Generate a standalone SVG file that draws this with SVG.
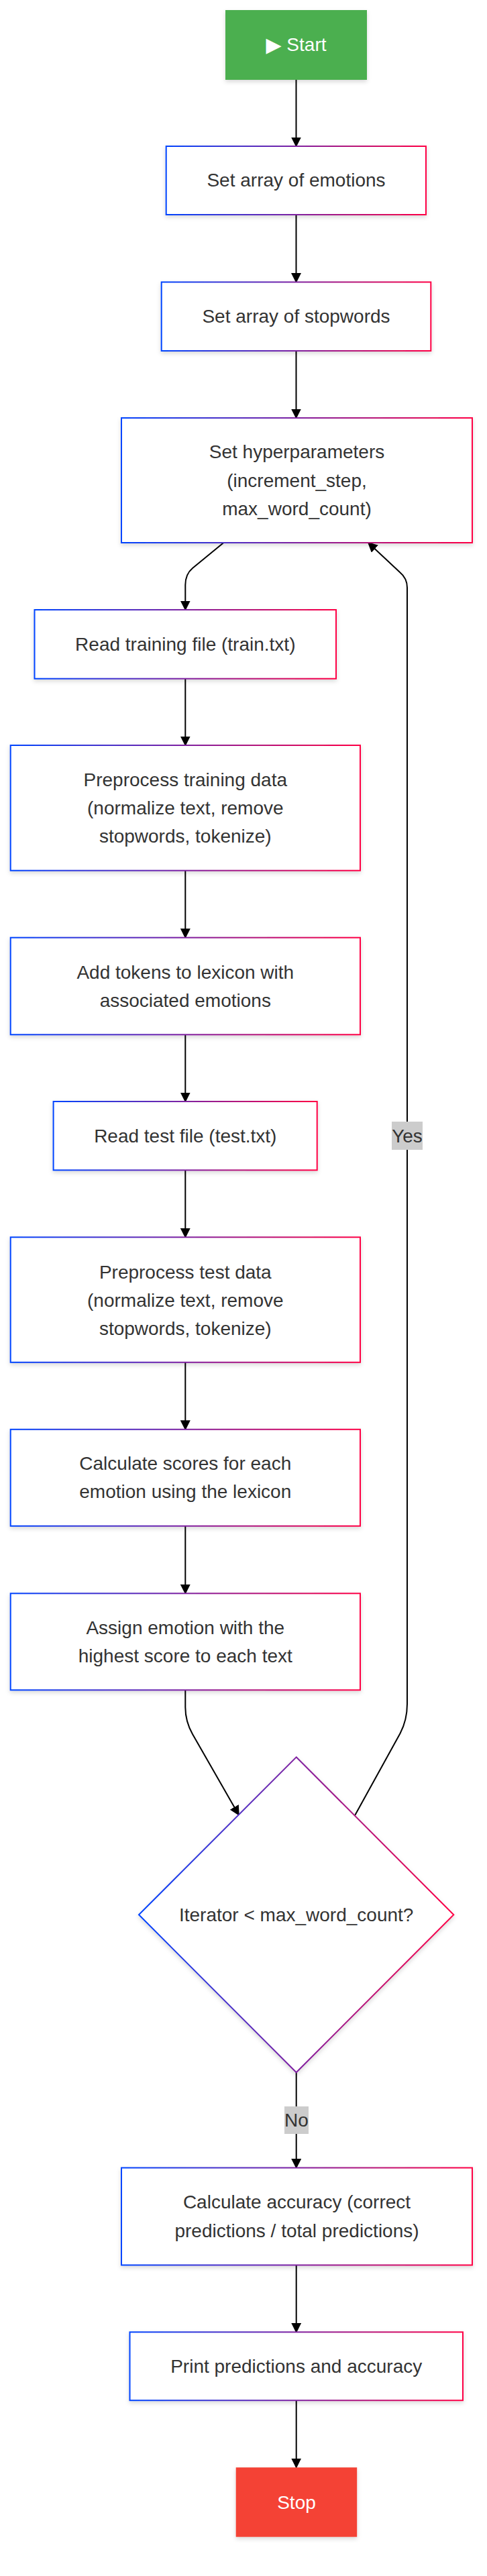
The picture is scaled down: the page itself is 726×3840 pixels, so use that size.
<svg xmlns="http://www.w3.org/2000/svg" width="726" height="3840" viewBox="0 0 726 3840">
<defs>
<linearGradient id="grad" x1="0" y1="0" x2="1" y2="0">
<stop offset="0" stop-color="#0044ff"/>
<stop offset="1" stop-color="#ff0044"/>
</linearGradient>
<filter id="shadow" x="-10%" y="-10%" width="120%" height="130%">
<feDropShadow dx="0" dy="3" stdDeviation="3" flood-color="#000" flood-opacity="0.15"/>
</filter>
<marker id="arrow" viewBox="0 0 10 10" refX="9" refY="5" markerUnits="userSpaceOnUse" markerWidth="15" markerHeight="15" orient="auto">
<path d="M0,0 L10,5 L0,10 z" fill="#000"/>
</marker>
</defs>
<style>
.box{fill:#fff;stroke:url(#grad);stroke-width:2;filter:url(#shadow)}
.t{font-family:"Liberation Sans",Arial,sans-serif;font-size:28px;fill:#333;text-anchor:middle;dominant-baseline:central}
.w{fill:#fff}
.edge{fill:none;stroke:#000;stroke-width:2}
.lbl{fill:#cccccc}
</style>
<rect width="726" height="3840" fill="#fff"/>
<g id="connectors">
<path class="edge" d="M441.5,119 L441.5,218" marker-end="url(#arrow)"/>
<path class="edge" d="M441.5,320 L441.5,420.5" marker-end="url(#arrow)"/>
<path class="edge" d="M441.5,523 L441.5,623" marker-end="url(#arrow)"/>
<path class="edge" d="M333.3,809 L287,847 Q276.3,856 276.3,872 L276.3,909" marker-end="url(#arrow)"/>
<path class="edge" d="M276.3,1011.7 L276.3,1111" marker-end="url(#arrow)"/>
<path class="edge" d="M276.3,1297.7 L276.3,1397.7" marker-end="url(#arrow)"/>
<path class="edge" d="M276.3,1542.3 L276.3,1642" marker-end="url(#arrow)"/>
<path class="edge" d="M276.3,1744.3 L276.3,1844.3" marker-end="url(#arrow)"/>
<path class="edge" d="M276.3,2030.8 L276.3,2130.8" marker-end="url(#arrow)"/>
<path class="edge" d="M276.3,2274.8 L276.3,2375.3" marker-end="url(#arrow)"/>
<path class="edge" d="M276.3,2519.3 L276.3,2545 Q276.3,2566 287,2585 L356,2705.5" marker-end="url(#arrow)"/>
<path class="edge" d="M441.7,3089.3 L441.7,3231.5" marker-end="url(#arrow)"/>
<path class="edge" d="M441.7,3376.5 L441.7,3476.4" marker-end="url(#arrow)"/>
<path class="edge" d="M441.7,3578.2 L441.7,3678.2" marker-end="url(#arrow)"/>
<path class="edge" d="M529.3,2705.7 L596.5,2584 Q607,2564 607,2540 L607,876 Q607,862 596,853 L549,809" marker-end="url(#arrow)"/>
<g id="label-yes">
<rect class="lbl" x="584" y="1672" width="46" height="42"/>
<text class="t" x="607" y="1693">Yes</text>
</g>
<g id="label-no">
<rect class="lbl" x="424" y="3140" width="36" height="41"/>
<text class="t" x="442" y="3160.5">No</text>
</g>
</g>
<g id="start">
<rect x="336" y="15" width="211" height="104" fill="#4CAF50" filter="url(#shadow)"/>
<text class="t w" x="441.5" y="66"><tspan font-family="DejaVu Sans, sans-serif" font-size="30">▶</tspan> Start</text>
</g>
<g id="set-emotions">
<rect class="box" x="247.7" y="218" width="387.3" height="102"/>
<text class="t" x="441.5" y="268">Set array of emotions</text>
</g>
<g id="set-stopwords">
<rect class="box" x="240.7" y="420.5" width="401.6" height="102.5"/>
<text class="t" x="441.5" y="471">Set array of stopwords</text>
</g>
<g id="set-hyperparameters">
<rect class="box" x="181" y="623" width="523" height="186"/>
<text class="t" x="442.5" y="673.5">Set hyperparameters</text>
<text class="t" x="442.5" y="716">(increment_step,</text>
<text class="t" x="442.5" y="758.5">max_word_count)</text>
</g>
<g id="read-training">
<rect class="box" x="51.5" y="909" width="449.5" height="102.7"/>
<text class="t" x="276.3" y="960">Read training file (train.txt)</text>
</g>
<g id="preprocess-training">
<rect class="box" x="15.7" y="1111" width="521.3" height="186.7"/>
<text class="t" x="276.3" y="1162.5">Preprocess training data</text>
<text class="t" x="276.3" y="1204.5">(normalize text, remove</text>
<text class="t" x="276.3" y="1246.5">stopwords, tokenize)</text>
</g>
<g id="add-tokens">
<rect class="box" x="15.7" y="1397.7" width="521.3" height="144.6"/>
<text class="t" x="276.3" y="1449">Add tokens to lexicon with</text>
<text class="t" x="276.3" y="1491">associated emotions</text>
</g>
<g id="read-test">
<rect class="box" x="79.6" y="1642" width="393.1" height="102.3"/>
<text class="t" x="276.3" y="1693">Read test file (test.txt)</text>
</g>
<g id="preprocess-test">
<rect class="box" x="15.7" y="1844.3" width="521.3" height="186.5"/>
<text class="t" x="276.3" y="1896">Preprocess test data</text>
<text class="t" x="276.3" y="1938">(normalize text, remove</text>
<text class="t" x="276.3" y="1980">stopwords, tokenize)</text>
</g>
<g id="calculate-scores">
<rect class="box" x="15.7" y="2130.8" width="521.3" height="144"/>
<text class="t" x="276.3" y="2181.5">Calculate scores for each</text>
<text class="t" x="276.3" y="2223.5">emotion using the lexicon</text>
</g>
<g id="assign-emotion">
<rect class="box" x="15.7" y="2375.3" width="521.3" height="144"/>
<text class="t" x="276.3" y="2426">Assign emotion with the</text>
<text class="t" x="276.3" y="2468">highest score to each text</text>
</g>
<g id="decision">
<polygon class="box" points="441.7,2619.3 676.3,2854.3 441.7,3089.3 207,2854.3"/>
<text class="t" x="441.7" y="2854">Iterator &lt; max_word_count?</text>
</g>
<g id="calculate-accuracy">
<rect class="box" x="181" y="3231.5" width="523" height="145"/>
<text class="t" x="442.5" y="3282">Calculate accuracy (correct</text>
<text class="t" x="442.5" y="3325">predictions / total predictions)</text>
</g>
<g id="print-results">
<rect class="box" x="193.5" y="3476.4" width="496.5" height="101.8"/>
<text class="t" x="441.7" y="3527.5">Print predictions and accuracy</text>
</g>
<g id="stop">
<rect x="351.7" y="3678.2" width="180.5" height="103.5" fill="#F44336" filter="url(#shadow)"/>
<text class="t w" x="442" y="3730">Stop</text>
</g>
</svg>
